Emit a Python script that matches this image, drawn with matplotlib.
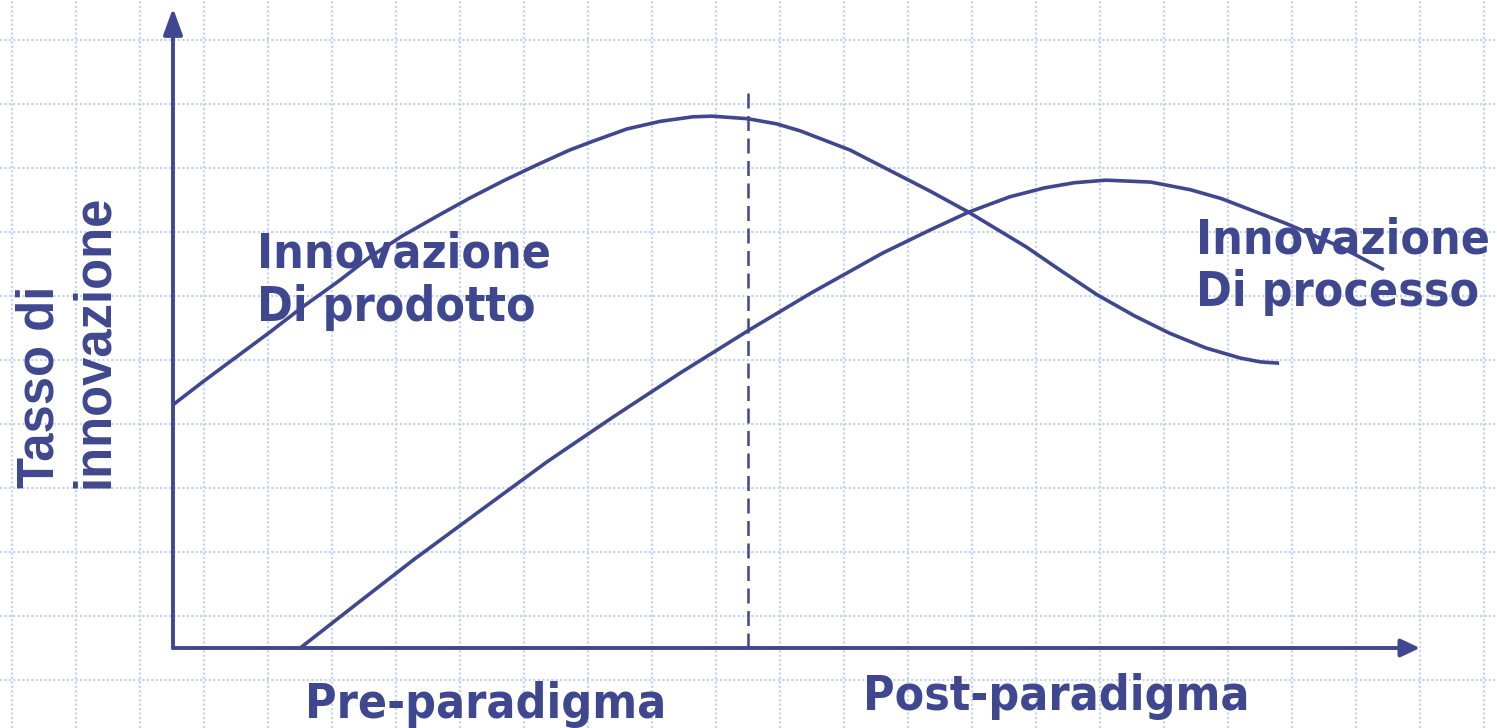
import numpy as np
import matplotlib
matplotlib.use("Agg")
import matplotlib.pyplot as plt
from matplotlib.patches import FancyArrowPatch

# ===== DATA (time on x, innovation rate on y, arbitrary units) =====
prod_x = [0, 2.4, 5.1, 7.8, 10.4, 13.2, 15.8, 18.4, 21.2, 23.8, 26.5, 29.2,
          31.8, 33.7, 36.4, 39.1, 41.7, 43.2, 46.1, 48.4, 50.3, 54.3, 56.9,
          60.7, 63.8, 68.4, 71.1, 74.1, 77.1, 79.9, 82.8, 85.6, 87.2, 88.7]
prod_y = [38.0, 41.6, 45.5, 49.4, 53.3, 57.2, 61.1, 64.4, 67.5, 70.3, 73.0, 75.5,
          77.8, 79.2, 81.1, 82.3, 83.0, 83.1, 82.7, 81.9, 80.8, 77.8, 75.2,
          71.4, 68.1, 62.7, 59.1, 55.2, 51.9, 49.2, 46.9, 45.3, 44.7, 44.5]

proc_x = [10.2, 15.0, 19.3, 24.6, 30.0, 35.3, 40.7, 46.3, 51.2, 56.9, 60.7,
          63.8, 67.1, 69.9, 72.3, 74.8, 78.4, 81.6, 84.1, 89.3, 93.6, 97.1]
proc_y = [0, 7.3, 13.8, 21.4, 29.1, 36.1, 43.0, 49.8, 55.5, 61.7, 65.3,
          68.1, 70.5, 71.9, 72.7, 73.1, 72.8, 71.6, 70.2, 66.3, 62.7, 59.1]

paradigm_x = 46.1      # dominant design moment
paradigm_top = 87.5

ylabel_text = "Tasso di\ninnovazione"
prod_label = "Innovazione\nDi prodotto"
proc_label = "Innovazione\nDi processo"
phase_labels = ["Pre-paradigma", "Post-paradigma"]

# ===== STYLE =====
W, H = 1497, 728
navy = "#3f4790"
grid_col = "#c6d3f0"
label_font = dict(family="DejaVu Sans", weight="bold", stretch="condensed",
                  size=34.5, color=navy)

fig = plt.figure(figsize=(W / 100, H / 100), dpi=100)

# background squared paper
bg = fig.add_axes([0, 0, 1, 1])
bg.set_xlim(0, W)
bg.set_ylim(H, 0)
bg.axis("off")
for gx in np.arange(12, W, 64):
    bg.axvline(gx, color=grid_col, lw=1.6, ls=(0, (1, 1)))
for gy in np.arange(40, H, 64):
    bg.axhline(gy, color=grid_col, lw=1.6, ls=(0, (1, 1)))

# main axes: origin at the arrow corner
ax = fig.add_axes([173 / W, 80 / H, 1247 / W, 640 / H])
ax.set_xlim(0, 100)
ax.set_ylim(0, 100)
ax.axis("off")
ax.patch.set_alpha(0)

# axis arrows
ax.add_patch(FancyArrowPatch((0, 0), (0, 100), arrowstyle="-|>,head_length=16,head_width=5.8",
                             mutation_scale=1, color=navy, lw=2.8, shrinkA=0, shrinkB=0,
                             clip_on=False))
ax.add_patch(FancyArrowPatch((0, 0), (100, 0), arrowstyle="-|>,head_length=11.5,head_width=5.4",
                             mutation_scale=1, color=navy, lw=2.8, shrinkA=0, shrinkB=0,
                             clip_on=False))

# curves
ax.plot(prod_x, prod_y, color=navy, lw=2.6, solid_joinstyle="round",
        solid_capstyle="butt", clip_on=False)
ax.plot(proc_x, proc_y, color=navy, lw=2.6, solid_joinstyle="round",
        solid_capstyle="butt", clip_on=False)

# dashed paradigm line
ax.plot([paradigm_x, paradigm_x], [0, paradigm_top], color=navy, lw=1.8,
        ls=(0, (6, 3)), clip_on=False)

# labels
ax.text(6.7, 65.2, prod_label, ha="left", va="top", linespacing=1.17,
        clip_on=False, **label_font)
ax.text(82.0, 67.5, proc_label, ha="left", va="top", linespacing=1.17,
        clip_on=False, **label_font)
ax.text(10.6, -5.2, phase_labels[0], ha="left", va="top", clip_on=False, **label_font)
ax.text(55.3, -3.9, phase_labels[1], ha="left", va="top", clip_on=False, **label_font)

fig.text(16 / W, (H - 488) / H, ylabel_text, rotation=90, ha="left", va="bottom",
         multialignment="left", family="Liberation Sans", weight="bold",
         size=36.5, color=navy, linespacing=1.12)

fig.savefig("out.png", dpi=100)
